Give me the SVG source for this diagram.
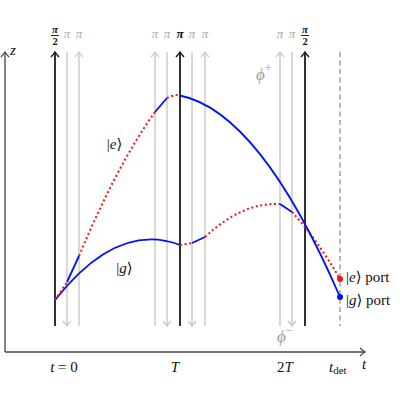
<svg xmlns="http://www.w3.org/2000/svg" width="400" height="400" viewBox="0 0 400 400">
<style>
text{font-family:"Liberation Serif","DejaVu Serif",serif;}
.m{font-style:italic;}
.pi{font-size:13px;fill:#aaa;}
.lbl{font-size:15px;fill:#111;}
.ax{stroke:#444;stroke-width:1.3;fill:none;}
.blk{stroke:#1a1a1a;stroke-width:1.8;fill:none;}
.gry{stroke:#c8c8c8;stroke-width:1.4;fill:none;}
.blue{stroke:#0010ff;stroke-width:1.8;fill:none;}
.red{stroke:#ff1010;stroke-width:2;fill:none;stroke-dasharray:2 2.6;}
</style>
<defs>
<marker id="ak" markerUnits="userSpaceOnUse" markerWidth="12" markerHeight="12" viewBox="-6 -6 12 12" refX="0" refY="0" orient="auto"><path d="M-5,-4 Q-1.5,-0.8 0,0 Q-1.5,0.8 -5,4" fill="none" stroke="#1a1a1a" stroke-width="1.5"/></marker>
<marker id="ag" markerUnits="userSpaceOnUse" markerWidth="12" markerHeight="12" viewBox="-6 -6 12 12" refX="0" refY="0" orient="auto"><path d="M-5,-4 Q-1.5,-0.8 0,0 Q-1.5,0.8 -5,4" fill="none" stroke="#c8c8c8" stroke-width="1.3"/></marker>
<marker id="aa" markerUnits="userSpaceOnUse" markerWidth="12" markerHeight="12" viewBox="-6 -6 12 12" refX="0" refY="0" orient="auto"><path d="M-5,-4 Q-1.5,-0.8 0,0 Q-1.5,0.8 -5,4" fill="none" stroke="#444" stroke-width="1.2"/></marker>
</defs>
<rect width="400" height="400" fill="#fff"/>

<g id="axes">
<line class="ax" x1="5" y1="352" x2="5" y2="52" marker-end="url(#aa)"/>
<line class="ax" x1="5" y1="352" x2="365" y2="352" marker-end="url(#aa)"/>
<text class="lbl m" x="10" y="55">z</text>
<text class="lbl m" x="362" y="369">t</text>
<text class="lbl" x="64" y="372" text-anchor="middle"><tspan class="m">t</tspan> = 0</text>
<text class="lbl m" x="175" y="372" text-anchor="middle">T</text>
<text class="lbl" x="285" y="372" text-anchor="middle">2<tspan class="m">T</tspan></text>
<text class="lbl" x="329" y="372"><tspan class="m">t</tspan><tspan font-size="11" dy="2">det</tspan></text>
</g>

<g id="pulses">
<line class="blk" x1="55" y1="326" x2="55" y2="52" marker-end="url(#ak)"/>
<line class="gry" x1="67" y1="52" x2="67" y2="326" marker-end="url(#ag)"/>
<line class="gry" x1="79" y1="326" x2="79" y2="52" marker-end="url(#ag)"/>
<line class="gry" x1="155" y1="326" x2="155" y2="52" marker-end="url(#ag)"/>
<line class="gry" x1="167" y1="52" x2="167" y2="326" marker-end="url(#ag)"/>
<line class="blk" x1="180" y1="326" x2="180" y2="52" marker-end="url(#ak)"/>
<line class="gry" x1="192" y1="52" x2="192" y2="326" marker-end="url(#ag)"/>
<line class="gry" x1="205" y1="326" x2="205" y2="52" marker-end="url(#ag)"/>
<line class="gry" x1="280" y1="326" x2="280" y2="52" marker-end="url(#ag)"/>
<line class="gry" x1="292" y1="52" x2="292" y2="326" marker-end="url(#ag)"/>
<line class="blk" x1="305" y1="326" x2="305" y2="52" marker-end="url(#ak)"/>
<line x1="340" y1="52" x2="340" y2="326" stroke="#888" stroke-width="1.2" stroke-dasharray="5 3.5"/>
</g>

<g id="pulse-labels">
<text x="55" y="32.5" font-size="11" text-anchor="middle" fill="#111" font-weight="bold" font-style="italic">π</text>
<line x1="51" y1="35.5" x2="59" y2="35.5" stroke="#111" stroke-width="0.9"/>
<text x="55" y="45" font-size="10.5" text-anchor="middle" fill="#111" font-weight="bold">2</text>
<text class="pi m" x="67" y="38" text-anchor="middle">π</text>
<text class="pi m" x="79" y="38" text-anchor="middle">π</text>
<text class="pi m" x="155" y="38" text-anchor="middle">π</text>
<text class="pi m" x="167" y="38" text-anchor="middle">π</text>
<text class="m" x="180" y="38" font-size="13" font-weight="bold" text-anchor="middle" fill="#111">π</text>
<text class="pi m" x="192" y="38" text-anchor="middle">π</text>
<text class="pi m" x="205" y="38" text-anchor="middle">π</text>
<text class="pi m" x="280" y="38" text-anchor="middle">π</text>
<text class="pi m" x="292" y="38" text-anchor="middle">π</text>
<text x="305" y="32.5" font-size="11" text-anchor="middle" fill="#111" font-weight="bold" font-style="italic">π</text>
<line x1="301" y1="35.5" x2="309" y2="35.5" stroke="#111" stroke-width="0.9"/>
<text x="305" y="45" font-size="10.5" text-anchor="middle" fill="#111" font-weight="bold">2</text>
<text x="256" y="80" font-size="17" fill="#999" class="m">ϕ<tspan font-size="12" dy="-8" font-style="normal">+</tspan></text>
<text x="277" y="342" font-size="17" fill="#999" class="m">ϕ<tspan font-size="12" dy="-8" font-style="normal">−</tspan></text>
</g>

<g id="connectors">
<path class="blue" d="M55,300 Q117.5,220.9 180,245"/>
<path class="red" d="M180,245 L192,243"/>
<path class="blue" d="M192,243 L205,237"/>
<path class="red" d="M205,237 Q242.5,202 280,204"/>
<path class="blue" d="M280,204 L292,212"/>
<path class="red" d="M292,212 Q316,237.9 340,279"/>
<path class="red" d="M55,300 L67,282"/>
<path class="blue" d="M67,282 L79,256"/>
<path class="red" d="M79,256 Q117,164.9 155,112"/>
<path class="blue" d="M155,112 L167,98"/>
<path class="red" d="M167,98 Q172,95 180,95"/>
<path class="blue" d="M180,95.5 Q260,112 340,297"/>
<circle cx="340" cy="279" r="3" fill="#ff1010"/>
<circle cx="340" cy="297" r="3" fill="#0010ff"/>
</g>

<g id="state-labels">
<text class="lbl" x="114.5" y="149" text-anchor="middle">|<tspan class="m">e</tspan>⟩</text>
<text class="lbl" x="124.5" y="273" text-anchor="middle">|<tspan class="m">g</tspan>⟩</text>
<text class="lbl" x="346" y="282">|<tspan class="m">e</tspan>⟩ port</text>
<text class="lbl" x="346" y="305">|<tspan class="m">g</tspan>⟩ port</text>
</g>
</svg>
